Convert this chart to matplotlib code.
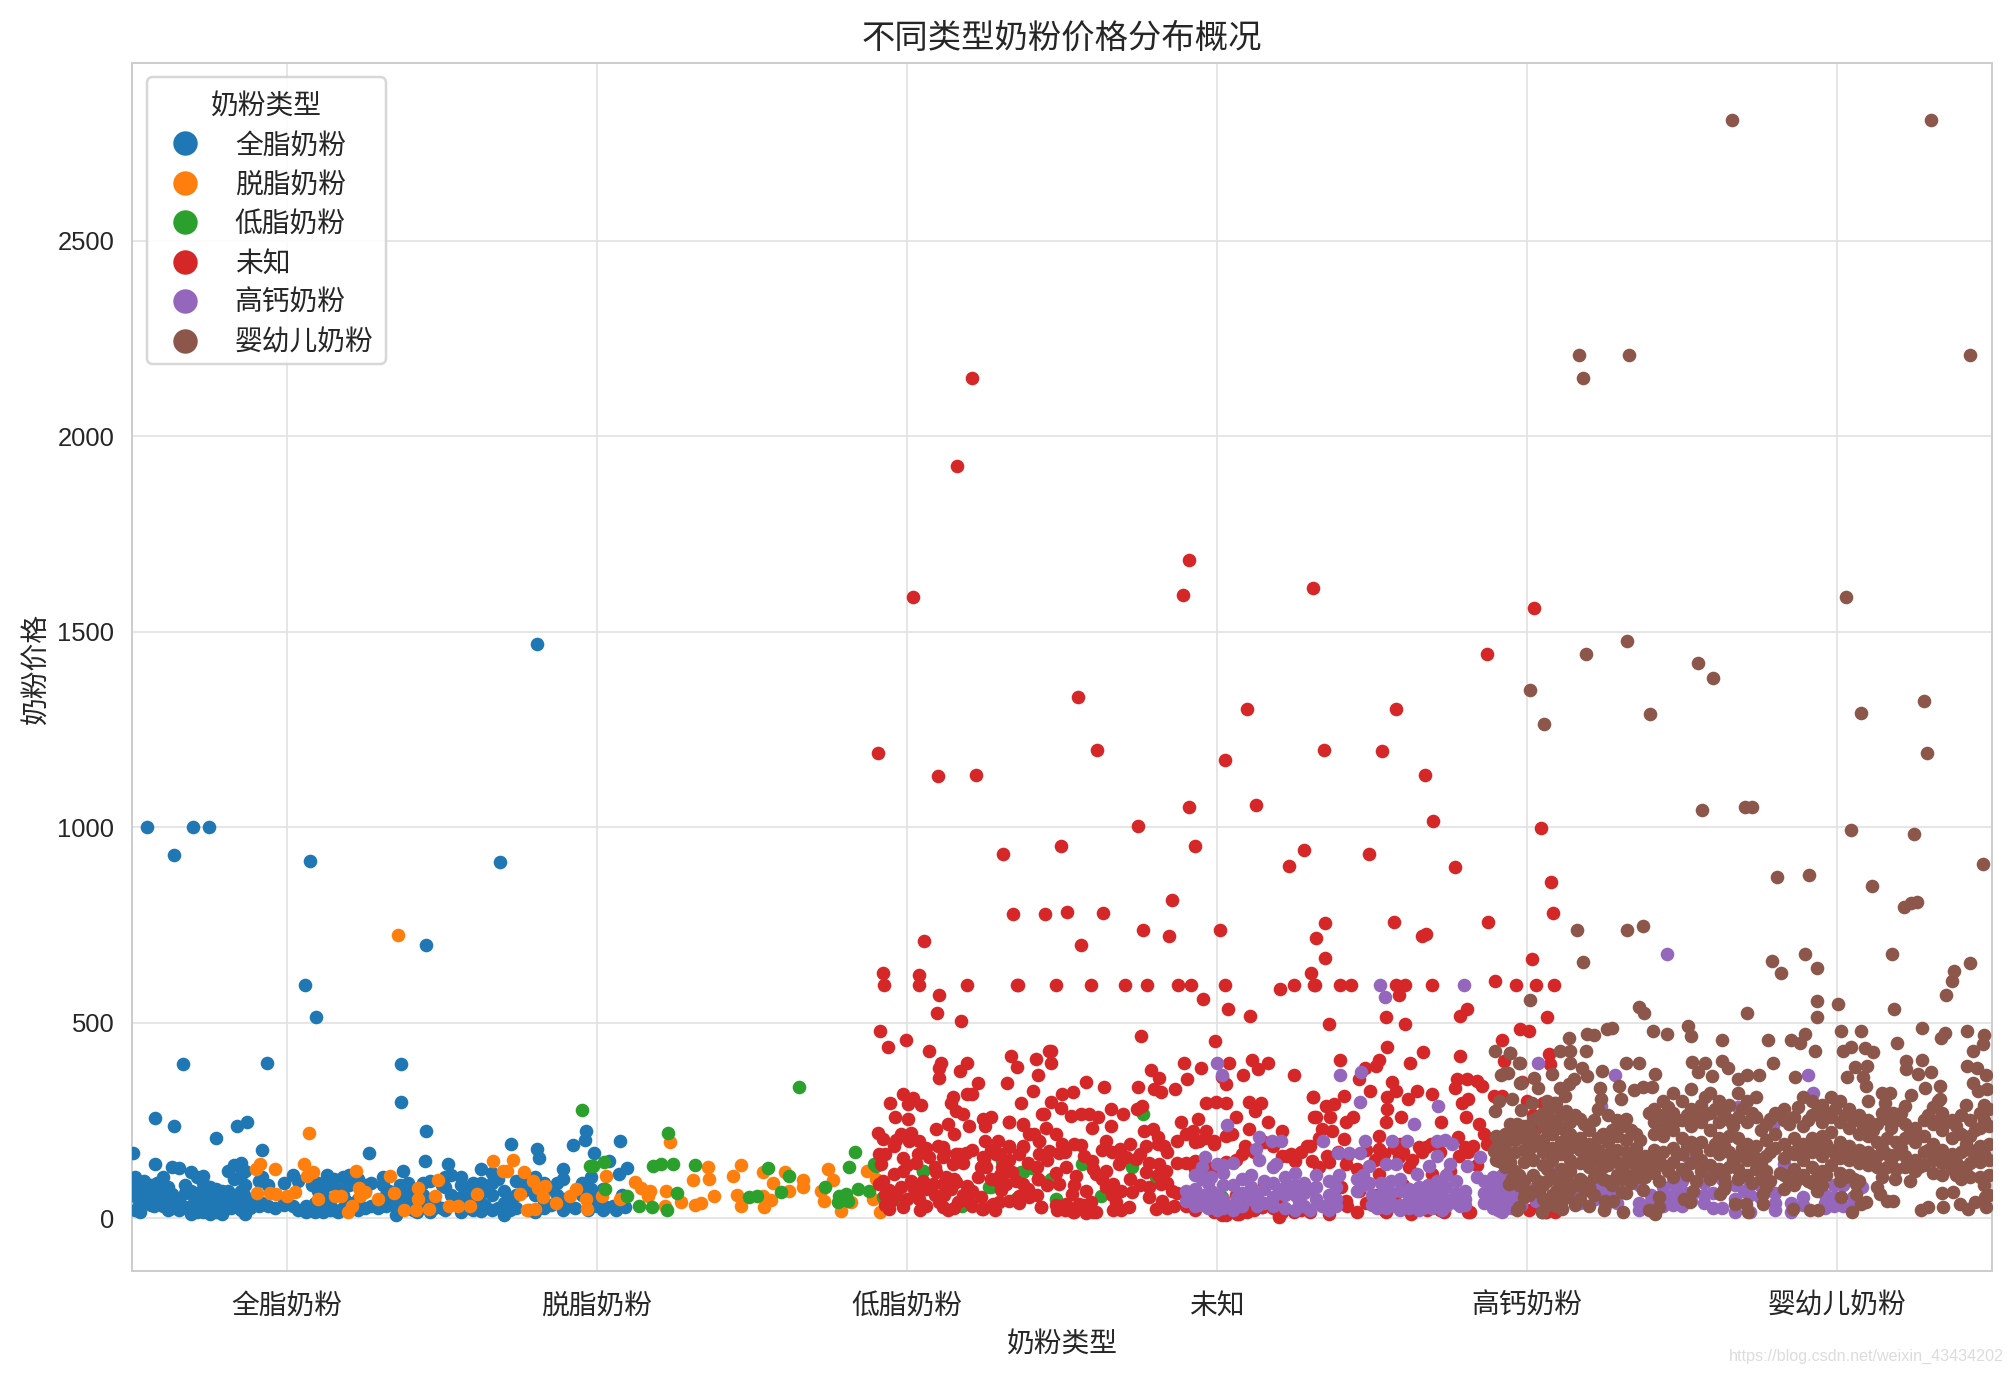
import numpy as np
import matplotlib
matplotlib.use("Agg")
import matplotlib.pyplot as plt
from matplotlib.lines import Line2D
from matplotlib.patches import FancyBboxPatch
from matplotlib.transforms import IdentityTransform

plt.rcParams['font.family'] = ['Noto Sans CJK SC', 'DejaVu Sans']

categories = ['全脂奶粉', '脱脂奶粉', '低脂奶粉', '未知', '高钙奶粉', '婴幼儿奶粉']
colors = ['#1f77b4', '#ff7f0e', '#2ca02c', '#d62728', '#9467bd', '#8c564b']

# (position on the category axis, prices)
blue_pts = [(-.451,[1000]),(-.364,[930]),(-.302,[1000]),(-.252,[1000]),(.075,[915]),(.058,[596]),(.095,[514]),(-.336,[394]),(-.066,[397]),(.368,[394,297]),(.447,[700]),(.687,[910]),(.807,[1470]),
 (-.425,[257]),(-.363,[235]),(-.229,[206]),(-.162,[237]),(-.129,[247]),(-.081,[175]),(.266,[167]),(.448,[224]),(.445,[147]),(.723,[189]),(.807,[178]),(.814,[154]),(.924,[188]),(.961,[200]),(.965,[224]),(.519,[139]),(-.496,[168]),(-.426,[139]),(1.075,[198]),(.99,[168]),(1.04,[147]),(1.096,[128]),(1.07,[113]),(1.03,[28]),(1.06,[20]),(1.09,[28]),
 (-.49,[105,85,60,20]),(-.475,[75,30,15]),(-.46,[95,65,45]),(-.44,[85,60,35]),(-.42,[90,70,45]),(-.40,[105,60,30]),(-.385,[80,30,20]),(-.37,[130,62,25]),(-.35,[128,45,22]),(-.33,[65,85,28]),(-.31,[118,70,30,12]),(-.29,[105,65,40,15]),(-.27,[108,90,60,30,15]),(-.25,[80,50,12]),(-.23,[75,55,35,15]),(-.21,[70,50,20,12]),(-.19,[120,70,45,25]),(-.17,[135,100,60,30]),(-.15,[140,110,70,40,20]),(-.135,[120,85,12,30]),(-.12,[25]),(-.09,[95,30]),(-.08,[105,40]),(-.06,[85,30]),(-.04,[25]),(-.01,[90,50,35]),(.02,[110,30]),(.06,[30,15]),(.08,[85,25]),(.10,[90,70,20]),(.13,[110,85,25]),(.15,[100,20]),(.18,[105,60,25]),(.20,[110,85,40]),(.23,[100,50,20]),(.25,[85,70,25]),(.31,[105,85,35]),(.33,[70,45]),(.35,[30,8]),(.375,[120,60]),(.39,[90,55,30]),(.42,[40,15]),(.44,[90,60,30]),(.46,[95,15]),(.51,[105,80,20]),(.53,[110,60]),(.56,[105,85,55,15]),(.60,[90,50,20]),(.625,[125,90,40,18]),(.66,[115,90,60,20]),(.70,[70,40,8]),(.74,[95,60,25]),(.76,[100,70]),(.80,[105,60,15]),(.83,[90,40,25]),(.87,[90,60]),(.89,[125,100,50,20]),(.93,[25]),(.95,[90,60]),(.98,[105,75,55,30]),
 (-.48,[50]),(-.43,[50,30]),(-.375,[50]),(-.30,[55,20]),(-.26,[40,20]),(-.22,[40,15]),(-.18,[50,25]),(-.14,[60]),(-.105,[50,35]),(.035,[95,20]),(.09,[40,15]),(.115,[60,15]),(.14,[35,20]),(.165,[75,15]),(.19,[45,20]),(.215,[90,30]),(.27,[90,30]),(.295,[25]),(.32,[60,30]),(.365,[85,45]),(.405,[65,20]),(.475,[45,25]),(.50,[85,25]),(.545,[40]),(.58,[70,25]),(.64,[70,30]),(.68,[100,25]),(.72,[50,20]),(.78,[75,20]),(.85,[75,35]),(.91,[30]),(.97,[50,20]),(1.0,[50,30]),(1.02,[75,20]),(1.05,[30]),(1.08,[60])]

orange_x = [-.086,-.10,-.04,-.097,-.054,-.035,0,.027,.054,.084,.064,.10,.071,.156,.174,.222,.231,.252,.236,.295,.209,.197,.333,.346,.376,.422,.421,.417,.457,.478,.486,.521,.553,.589,.612,.664,.696,.709,.728,.765,.75,.773,.80,.795,.811,.832,.827,.868,.913,.932,.965,.967,1.03,1.017,1.073,1.121,1.143,1.17,1.164,1.223,1.234,1.218,1.272,1.315,1.336,1.311,1.358,1.360,1.379,1.465,1.44,1.451,1.463,1.535,1.567,1.605,1.619,1.538,1.535,1.562,1.664,1.666,1.723,1.731,1.744,1.76,1.787,1.819,1.870,1.889,1.900,1.913,1.964,.357]
orange_y = [139,126,127,64,64,62,58,66,139,119,109,49,217,58,58,122,77,66,58,49,30,15,107,65,22,77,49,20,24,58,99,32,32,32,62,147,120,122,149,119,62,22,24,96,77,83,54,39,58,75,49,24,109,58,49,92,77,70,58,70,194,32,41,35,39,99,130,100,58,137,109,60,31,117,90,119,69,28,58,47,99,79,69,45,126,99,18,41,120,49,100,17,49,725]

green_x = [.953,.977,.987,1.022,1.025,1.097,1.135,1.18,1.207,1.245,1.23,1.178,1.226,1.258,1.315,1.651,1.553,1.619,1.594,1.49,1.517,1.737,1.833,1.814,1.782,1.803,1.777,1.809,1.841,1.877,1.9,1.921,2.05,2.27,2.367,2.403,2.351,2.459,2.179,1.986,2.308,2.4,2.373,2.265,2.351,2.05,2.762,2.566,2.464,2.48,2.625,2.727,2.802,1.895,2.974,2.899,3.017,3.082]
green_y = [277,134,134,145,75,56,31,133,139,139,218,28,22,64,137,335,128,109,66,55,58,79,169,130,58,62,41,45,75,69,134,54,121,79,117,128,49,96,32,37,147,130,117,79,49,122,266,139,100,49,58,130,105,139,113,62,54,45]

red_x = [2.21,2.16,2.02,1.908,2.099,2.223,2.31,2.55,2.612,2.744,2.91,2.889,2.91,2.93,2.856,2.496,2.343,2.446,2.517,2.632,2.562,2.761,2.844,3.026,3.096,3.125,3.311,3.344,3.282,3.233,3.489,3.531,3.576,3.671,3.696,3.767,3.87,4.023,3.874,4.044,4.077,4.085,4.015,3.009,3.572,3.66,3.675,3.348,3.32,3.348,
 1.922,1.925,2.040,2.038,2.102,2.195,2.357,2.098,2.174,1.913,1.997,1.938,2.07,2.109,2.104,2.192,2.171,2.102,2.23,2.322,2.335,2.355,2.416,2.421,2.405,2.368,2.459,1.946,1.986,2.018,2.002,2.045,1.962,2.002,2.142,2.147,2.195,2.211,2.158,2.18,2.201,2.093,2.131,2.244,2.271,2.25,2.33,2.373,1.905,1.921,1.98,2.013,2.007,2.039,1.959,2.099,2.25,2.292,2.394,2.437,2.426,2.373,1.909,1.916,1.986,2.034,2.072,2.115,2.158,2.19,2.244,2.287,2.33,2.426,2.147,
 1.921,1.958,1.986,1.911,1.942,1.98,2.013,2.05,2.093,2.125,2.158,2.195,2.228,2.255,2.308,2.340,2.292,2.373,2.319,2.303,2.362,2.394,2.423,2.432,1.943,1.948,1.986,2.04,2.042,2.104,2.131,2.115,2.163,2.201,2.242,2.271,2.285,2.298,2.115,2.142,2.083,2.024,
 2.056,2.355,2.48,2.595,2.702,2.774,2.875,2.917,3.025,2.955,3.035,3.105,2.754,2.995,3.204,3.247,3.302,3.313,2.465,2.463,2.577,2.634,2.501,2.534,2.464,2.745,2.786,2.813,2.797,2.819,2.866,2.904,2.893,2.947,3.038,3.017,3.028,3.084,3.114,3.132,3.166,3.249,3.309,2.963,2.996,3.028,3.103,3.141,3.123,3.061,3.166,3.312,
 2.443,2.497,2.53,2.561,2.588,2.615,2.657,2.698,2.743,2.759,2.883,2.94,2.765,2.793,2.657,2.598,2.449,2.33,2.373,2.41,2.426,2.501,2.561,2.641,2.686,2.81,2.872,2.921,2.964,2.991,3.044,3.104,3.211,3.291,2.771,2.83,2.941,2.93,
 2.459,2.491,2.512,2.544,2.49,2.533,2.577,2.485,2.534,2.577,2.611,2.556,2.593,2.512,2.423,2.433,2.598,2.641,2.609,2.663,2.641,2.663,2.674,2.716,2.727,2.706,2.738,2.684,2.771,2.813,2.78,2.818,2.856,2.802,2.823,2.861,2.834,2.169,2.115,2.287,2.33,2.373,2.249,2.244,2.319,2.351,2.389,2.276,
 3.896,3.963,4.029,4.086,3.694,3.576,3.608,3.587,3.397,3.431,3.316,3.807,3.785,4.064,3.544,3.608,3.361,3.976,4.005,3.92,3.547,3.664,3.522,3.397,3.621,3.785,3.479,3.512,3.458,4.070,4.075,3.925,3.565,3.576,3.645,3.549,3.694,3.616,3.495,3.409,3.31,3.351,3.377,3.549,3.774,3.807,3.839,3.855,3.769,3.811,3.79,3.892,3.918,3.318,3.366,3.44,3.415,3.592,3.544,3.804,3.721,3.845,3.339,3.371,3.522,3.861,3.409,3.651,3.589,3.522,3.779,3.827,3.8,3.356,3.415,3.227,3.307,3.253,3.049,3.082,3.4,3.415,3.458,3.522,3.619,3.587,3.694,3.673,3.028,3.071,3.098,3.2,3.248,3.361,3.544,3.626,3.678,3.732,3.817,4.005,4.032,4.038,4.059,3.146,
 3.985,4.0,4.05,4.087,4.02,4.03,4.08,4.06,4.09,3.017,3.066,3.199,3.146,3.27,3.06,3.1,2.986,3.15,3.2]
red_y = [2149,1923,1588,1191,1132,1135,932,1332,1198,1004,1683,1594,1053,951,814,951,778,777,784,781,699,738,722,1171,1302,1056,1611,1198,942,902,932,1194,1302,1135,1017,899,1444,1562,758,997,860,781,663,738,758,722,728,755,718,666,
 627,596,623,596,572,596,596,526,505,479,457,438,428,398,385,396,377,358,345,347,415,387,408,366,326,296,428,296,317,308,292,289,258,253,296,311,317,317,275,266,236,228,240,253,260,236,245,239,219,202,215,217,198,198,185,185,198,198,215,266,198,181,164,139,154,164,156,156,164,168,156,164,181,164,139,
 96,113,122,88,71,79,96,96,117,105,92,83,105,130,130,117,96,88,88,71,58,55,100,28,24,45,28,49,21,41,20,28,41,41,24,32,20,41,88,75,88,75,
 708,596,596,596,596,596,596,596,596,561,534,518,466,453,586,596,627,596,428,396,349,336,317,324,297,336,378,358,330,324,330,355,398,385,398,360,343,366,406,381,396,366,309,296,298,296,298,296,273,259,247,259,
 266,283,262,266,266,259,279,266,279,287,245,253,224,228,236,232,232,245,240,215,198,190,188,198,177,207,198,224,224,198,215,228,224,185,185,185,198,147,
 173,168,130,109,88,62,70,20,15,13,15,37,41,37,100,28,147,122,113,88,79,20,41,28,66,156,151,139,117,139,79,88,70,24,45,32,122,164,181,164,185,185,151,24,122,96,58,37,
 606,596,596,596,596,596,596,572,596,596,596,536,518,514,514,497,496,483,479,457,438,426,404,404,398,415,385,389,355,419,394,402,349,326,326,309,317,304,326,313,309,287,292,279,355,355,351,338,334,304,296,313,313,259,259,258,245,259,247,258,245,241,228,224,211,215,202,181,190,177,207,185,181,160,139,160,147,147,215,164,79,45,70,113,130,156,113,181,7,11,15,4,15,11,15,11,20,15,15,20,37,70,15,28,
 349,300,296,296,265,230,111,15,15,7,11,7,28,20,60,40,120,90,55]
red_pts = [(1.93,[165,60,35]),(1.965,[200,60]),(2.0,[135,50]),(2.03,[140,60]),(2.06,[180,75,30]),(2.09,[130,60]),(2.12,[170,60]),(2.15,[215,100,25]),(2.18,[140,60]),(2.21,[175,70,30]),(2.24,[130,55]),(2.27,[175,100]),(2.30,[165,110]),(2.33,[150,45]),(2.36,[165,40]),(2.39,[140,75]),(2.42,[130,60]),(2.45,[150,85]),(2.48,[215,115,35]),(2.51,[170,20]),(2.54,[190,85,15]),(2.57,[160,35]),(2.60,[125,15]),(2.63,[175,100]),(2.66,[170,60]),(2.69,[150,70,20]),(2.72,[190,100]),(2.75,[165,85]),(2.78,[140,55]),(2.81,[190,110]),(2.84,[170,90,25]),(2.87,[140,65]),(2.90,[215,140,30]),(2.93,[195,125,20]),(2.96,[205,135]),(2.99,[190,15]),(3.03,[210,145]),(3.06,[150]),(3.09,[185,45]),(3.12,[170,20]),(3.15,[195]),(3.18,[185,25]),(3.21,[160,15]),(3.24,[165]),(3.27,[170,25]),(3.30,[185,15]),(3.33,[205,130]),(3.36,[145,20]),(3.39,[170]),(3.42,[160,30]),(3.45,[125,15]),(3.48,[175,40]),(3.51,[150,60]),(3.54,[165,20]),(3.57,[180,55]),(3.60,[170,85]),(3.63,[150,45]),(3.66,[170]),(3.69,[190]),(3.72,[170,20]),(3.75,[120]),(3.78,[160]),(3.81,[170,15]),(3.84,[135]),(3.87,[190])]

purple_pts = [(3.0,[398,139]),(3.017,[366]),(3.031,[238]),(3.135,[207,149]),(3.178,[198]),(3.208,[198]),(3.125,[177]),(2.961,[157]),(3.189,[139]),
 (3.527,[596]),(3.543,[566]),(3.796,[596]),(3.397,[366]),(3.465,[374]),(3.461,[298,167]),(3.635,[242]),(3.713,[287]),(3.341,[198]),(3.479,[198]),(3.563,[198]),(3.613,[198]),(3.71,[198,160]),(3.737,[200]),(3.758,[190]),(3.391,[168]),(3.426,[168]),(3.849,[156]),(3.544,[139]),(3.576,[139]),(3.683,[134]),(3.753,[139]),(3.807,[134]),(3.489,[134]),(3.393,[111]),(3.645,[113]),(3.839,[106]),
 (4.285,[366]),(4.45,[677]),(4.907,[366]),(4.24,[287]),(4.795,[236]),(4.924,[321]),(4.075,[139]),(4.036,[398]),(4.52,[156]),(4.83,[139]),(4.68,[285]),
 (2.90,[70,45]),(2.93,[110,75,45,30]),(2.95,[130,100,60,35]),(2.98,[105,70,40]),(3.02,[135,115,85,50,25]),(3.05,[140,85,35,20]),(3.08,[100,65,30]),(3.11,[110,80,50]),(3.15,[95,75,40]),(3.18,[130,90,55,30]),(3.22,[105,80,60,25]),(3.25,[115,85,60,20]),(3.28,[90,65,30]),(3.32,[110,80,50]),(3.36,[95,60,35,20]),(3.385,[80,50,30]),(3.45,[100,70]),(3.47,[110,85]),(3.50,[60,35]),(3.53,[90,60,30]),(3.56,[95,65,40]),(3.59,[100,70,35,20]),(3.62,[75,50,25]),(3.65,[80,60,35,20]),(3.68,[85,60,35]),(3.71,[95,70,45]),(3.74,[110,80,50,30]),(3.77,[95,65,40]),(3.80,[70,50,35]),(3.86,[95,65,40]),(3.89,[105,75,45,25]),(3.92,[110,85,60,35,15]),(3.95,[100,75,50,25]),(3.98,[60,35]),
 (4.03,[80,45]),(4.14,[95,60]),(4.17,[70,40]),(4.22,[100,75,50]),(4.25,[85,60,30]),(4.29,[100,70,40]),(4.36,[85,40,20]),(4.40,[60,45]),(4.44,[80,55,30]),(4.47,[90,60,35]),(4.50,[95,70,30]),(4.53,[60,45]),(4.57,[90,60,40]),(4.60,[110,65,25]),(4.63,[100,25]),(4.67,[85,50,15]),(4.70,[105,70]),(4.72,[90,60,15]),(4.75,[85,55]),(4.80,[65,40,20]),(4.85,[40,15]),(4.89,[55,35]),(4.96,[60,40,25]),(4.99,[85,55,30]),(5.02,[85,30]),(5.05,[55,30]),(5.08,[80]),
 (2.97,[90,25]),(3.0,[60,20]),(3.065,[55]),(3.13,[60,30]),(3.2,[70]),(3.265,[45]),(3.3,[75,20]),(3.34,[30]),(3.49,[90]),(3.515,[25]),(3.545,[80,25]),(3.575,[30]),(3.635,[40]),(3.665,[25]),(3.695,[80,25]),(3.725,[20]),(3.755,[45]),(3.785,[30]),(3.875,[55]),(3.905,[65,20]),(3.935,[25]),(3.965,[90,40])]

brown_x = [4.661,5.302,4.168,4.329,4.18,5.43,4.321,4.189,4.553,4.599,4.011,4.056,4.396,5.029,5.079,5.281,5.29,4.702,4.727,4.565,5.046,5.248,5.112,4.805,4.909,5.472,5.24,5.257,4.16,4.321,4.375,4.18,
 4.011,4.36,4.376,5.217,4.79,4.819,4.897,4.934,5.178,5.428,5.378,5.372,5.353,4.937,5.002,4.934,5.183,4.709,
 4.274,4.257,4.134,4.193,4.215,4.19,4.107,4.14,4.14,4.177,3.946,3.978,3.93,4.021,3.978,4.037,4.08,4.193,4.151,4.135,4.107,4.123,4.243,4.32,4.36,4.236,4.239,4.297,4.304,4.344,4.412,4.375,4.402,4.408,4.453,4.52,4.528,4.63,4.778,4.852,4.897,4.881,4.93,5.013,5.077,5.192,5.275,5.348,5.335,5.42,5.475,5.472,5.439,5.418,5.452,5.482,5.02,5.045,5.09,5.117,5.058,5.096,5.031,5.085,5.094,5.224,5.275,5.224,5.262,5.303,4.531,4.575,4.553,4.596,4.628,4.649,4.709,4.682,4.749,4.792,4.865,5.24,5.284,5.332,5.332,5.144,5.171,5.099,5.155,5.181,5.219,5.439,5.455,5.483,
 5.047,5.079,5.095,5.06,5.06,5.012,4.935,4.859,4.913,4.94,4.76,4.76,4.672,4.706,4.714,4.623,4.639,4.537,4.505,4.526,4.414,4.393,4.425,4.425,4.373,4.311,4.306,4.247,4.252,4.279,4.199,4.204,4.177,4.129,4.113,4.107,4.048,3.973,3.989,3.952,3.941,
 5.139,5.16,5.18,5.187,5.235,5.272,5.295,5.343,5.338,5.375,5.396,5.424,5.445,5.477,5.482,
 3.898,3.946,3.975,3.917,3.94,3.982,3.909,3.898,3.952,3.981,4.016,3.968,3.925,3.893,3.909,3.952,3.995,3.969,4.048]
brown_y = [2808,2808,2208,2208,2149,2208,1476,1444,1421,1381,1352,1263,1289,1588,1293,1322,1191,1053,1053,1043,994,984,850,873,879,905,807,810,738,738,748,656,
 559,540,525,797,659,627,677,640,677,654,632,606,570,555,548,515,534,526,
 487,483,460,470,468,429,427,427,398,385,423,398,372,359,347,333,368,364,355,343,334,313,377,398,398,334,304,338,304,327,368,336,336,479,470,491,466,456,456,456,470,449,428,479,479,449,487,473,460,479,468,445,428,389,385,366,428,439,436,425,387,389,360,360,338,402,404,381,370,374,400,398,374,364,402,385,366,355,366,398,360,315,332,338,304,321,321,300,296,270,287,347,326,330,
 15,37,41,88,62,54,70,24,20,20,62,37,37,37,15,62,88,70,49,41,11,20,54,28,72,15,66,20,45,45,32,70,96,54,24,88,15,28,54,100,88,
 62,45,45,100,96,20,28,28,64,66,36,24,41,54,28,
 428,423,398,366,372,345,300,275,304,276,296,240,207,173,147,100,70,20,15]
brown_pts = [(3.90,[210,180,150]),(3.93,[215,190,165,130]),(3.96,[225,200,170,120]),(3.99,[235,205,175,145,95]),(4.02,[250,215,185,150,110,70]),(4.05,[270,235,200,170,135,85,50]),(4.08,[285,250,215,180,150,110,60]),(4.11,[265,230,195,165,125,90,40]),(4.14,[245,215,180,150,120,75]),(4.17,[255,205,175,140,100,50]),(4.20,[225,190,160,130,80]),(4.23,[280,205,175,150,115]),(4.26,[265,195,165,135,95]),(4.29,[250,210,175,145,110]),(4.32,[255,200,170,140,110,65]),(4.35,[215,180,150,120]),(4.38,[160,135,105]),(4.41,[280,245,215,175,145,115]),(4.44,[300,265,210,170,135]),(4.47,[320,270,225,180,145,105]),(4.50,[300,250,205,165,125]),(4.53,[330,280,235,195,140]),(4.56,[290,245,195,150,120]),(4.59,[320,270,225,175,135,100]),(4.62,[300,245,205,165,125]),(4.65,[290,250,210,170,130]),(4.68,[320,260,205,160,125,100]),(4.71,[300,245,190,150,110]),(4.74,[310,260,185,155,125]),(4.77,[240,200,160,120,80]),(4.80,[270,215,180]),(4.83,[280,250,190,155,110,75]),(4.86,[260,205,165,125,85]),(4.89,[310,235,190,150,110]),(4.92,[300,265,205,170,130,90]),(4.95,[290,245,210,160,120,85]),(4.98,[310,260,220,175,135]),(5.01,[300,245,195,155,115,95]),(5.04,[280,230,185,150,110]),(5.07,[265,215,175,140,95]),(5.10,[250,210,170,135]),(5.13,[240,195,160,130,80]),(5.16,[255,205,165,130]),(5.19,[250,195,165,125]),(5.22,[240,205,160,130]),(5.25,[230,195,150,120]),(5.28,[250,210,170,135]),(5.31,[285,240,190,150,115]),(5.34,[270,225,175,140,110]),(5.37,[250,205,165,125]),(5.40,[265,215,170,130,100]),(5.43,[250,210,175,140,105]),(5.46,[270,230,185,145,105]),(5.49,[280,235,190,150,110,60]),
 (3.945,[240,145]),(3.975,[215,110,85]),(4.005,[225,160,60]),(4.035,[260,190,95,70]),(4.065,[300,265,225,125,95,35]),(4.095,[295,240,175,100,70,30]),(4.125,[275,205,105,60]),(4.155,[265,195,85,35]),(4.185,[240,155,75]),(4.215,[250,175,105,60]),(4.245,[215,130,100]),(4.275,[225,150,85]),(4.305,[235,125,100]),(4.335,[225,155,90]),(4.365,[200,105]),(4.395,[270,125]),(4.425,[265,230,160,95]),(4.455,[285,240,120]),(4.485,[250,165]),(4.515,[265,185,110]),(4.545,[260,170,95]),(4.575,[310,265,135]),(4.605,[280,190,115]),(4.635,[270,185,105,75]),(4.665,[235,150]),(4.695,[280,180]),(4.725,[270,170,90]),(4.755,[225,140,100]),(4.785,[255,170,95]),(4.815,[265,115]),(4.845,[240,170,95]),(4.875,[285,180,100]),(4.905,[250,175,95]),(4.935,[275,185,105]),(4.965,[270,190,110]),(4.995,[280,165]),(5.025,[265,175,105]),(5.055,[250,165,100]),(5.085,[235,155]),(5.115,[225,150]),(5.145,[270,180,105]),(5.175,[230,150]),(5.205,[270,180]),(5.235,[220,145]),(5.265,[210,130]),(5.295,[265,175]),(5.325,[300,250,160]),(5.355,[245,155]),(5.385,[235,145,110]),(5.415,[290,190,115]),(5.445,[225,155]),(5.475,[290,250,165,85])]


def expand(columns):
    xs, ys = [], []
    for x, vals in columns:
        xs += [x] * len(vals)
        ys += vals
    return xs, ys


blue_x, blue_y = expand(blue_pts)
purple_x, purple_y = expand(purple_pts)
rx, ry = expand(red_pts)
bx, by = expand(brown_pts)
series = [(blue_x, blue_y), (orange_x, orange_y), (green_x, green_y), (red_x + rx, red_y + ry),
          (purple_x, purple_y), (brown_x + bx, brown_y + by)]

W, H = 2011, 1374
fig = plt.figure(figsize=(W / 200, H / 200), dpi=200)
ax = fig.add_axes([132 / W, 1 - 1271 / H, (1992 - 132) / W, (1271 - 63) / H])
ax.set_axisbelow(True)
ax.grid(True, color='#e2e2e2', linewidth=0.6)
for s in ax.spines.values():
    s.set_color('#cccccc')
    s.set_linewidth(0.7)

for (x, y), c in zip(series, colors):
    n = min(len(x), len(y))
    ax.scatter(x[:n], y[:n], s=24, color=c, linewidths=0, zorder=3)

ax.set_xlim(-0.5, 5.5)
ax.set_ylim(-135, 2955)
ax.set_xticks(range(len(categories)))
ax.set_xticklabels(categories, fontsize=10, color='#262626')
ax.set_yticks([0, 500, 1000, 1500, 2000, 2500])
ax.tick_params(axis='both', length=0)
ax.tick_params(axis='x', pad=7)
ax.tick_params(axis='y', pad=6.4, labelsize=9.2, labelcolor='#262626')
for t in ax.get_yticklabels():
    t.set_family(['Liberation Sans', 'DejaVu Sans'])
ax.set_xlabel('奶粉类型', fontsize=10, color='#262626', labelpad=3)
ax.set_ylabel('奶粉价格', fontsize=10, color='#262626', labelpad=2.4, y=0.498)
ax.set_title('不同类型奶粉价格分布概况', fontsize=12, color='#262626', pad=5.4)

frame = FancyBboxPatch((147, H - 364), 239, 287, boxstyle='round,pad=0,rounding_size=6',
                       transform=IdentityTransform(), facecolor='white', edgecolor='#d0d0d0',
                       linewidth=0.9, alpha=0.85, zorder=4, clip_on=False)
ax.add_patch(frame)
handles = [Line2D([], [], linestyle='none', marker='o', markersize=8.8, markeredgewidth=0, color=c)
           for c in colors]
leg = ax.legend(handles, categories, title='奶粉类型', fontsize=10, title_fontsize=10,
                loc='upper left', bbox_to_anchor=(147 / W, 1 - 81 / H), bbox_transform=fig.transFigure,
                borderaxespad=0, frameon=False, labelspacing=0.34,
                borderpad=0.35, handletextpad=0.81, labelcolor='#262626')
leg.get_title().set_color('#262626')
leg.set_zorder(5)

fig.text(0.9965, 1 - 1356 / H, 'https://blog.csdn.net/weixin_43434202', fontsize=5.8, color='#dcdcdc',
         ha='right', va='center', family=['Liberation Sans', 'DejaVu Sans'])

fig.savefig('out.png', dpi=200, facecolor='white')
